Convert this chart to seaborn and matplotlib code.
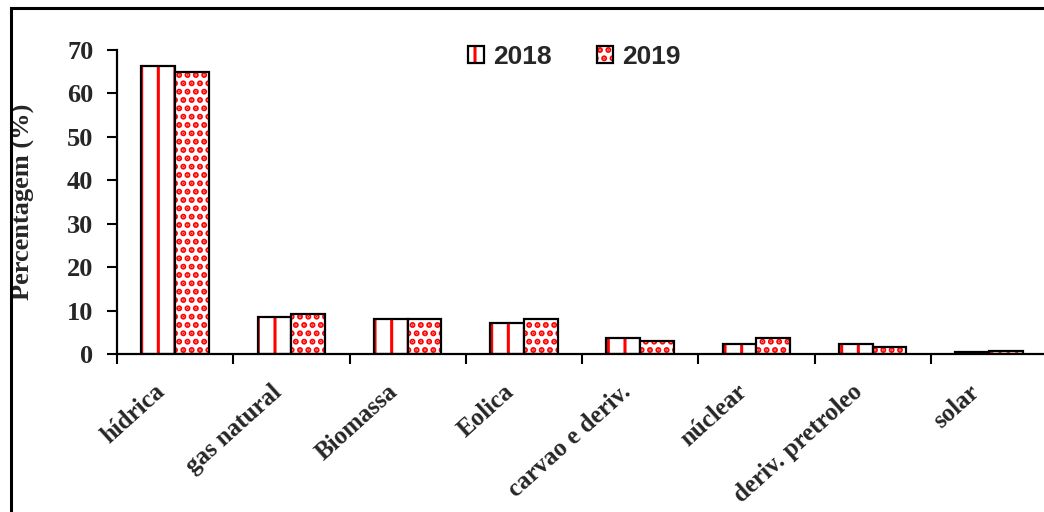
import pandas as pd
import matplotlib.pyplot as plt
import matplotlib.transforms as mtransforms
import seaborn as sns
from matplotlib.patches import Rectangle, Patch

# Values
categories = ['hídrica', 'gas natural', 'Biomassa', 'Eolica', 'carvao e deriv.',
              'núclear', 'deriv. pretroleo', 'solar']
years = ['2018', '2019']
v2018 = [66.3, 8.6, 8.1, 7.2, 3.6, 2.3, 2.3, 0.4]
v2019 = [64.9, 9.1, 8.1, 8.1, 3.1, 3.6, 1.7, 0.8]
y_ticks = [0, 10, 20, 30, 40, 50, 60, 70]

df = pd.DataFrame({
    'fonte': categories * 2,
    'ano': [years[0]] * len(categories) + [years[1]] * len(categories),
    'pct': v2018 + v2019,
})

sns.set_style('white')
plt.rcParams['hatch.linewidth'] = 2.4
plt.rcParams['font.family'] = 'serif'
plt.rcParams['font.serif'] = ['Liberation Serif', 'DejaVu Serif']
plt.rcParams['font.weight'] = 'bold'
sans = ['Liberation Sans', 'DejaVu Sans']
fs = 19

fig = plt.figure(figsize=(10.44, 5.12), dpi=100)
ax = fig.add_axes([117 / 1044, 1 - 354 / 512, 930 / 1044, 304 / 512])

sns.barplot(data=df, x='fonte', y='pct', hue='ano', order=categories, hue_order=years,
            palette=['white', 'white'], width=0.58, edgecolor='black', linewidth=1.6,
            saturation=1, legend=False, ax=ax)


def red_hatch(p, lw):
    if hasattr(p, 'set_hatchcolor'):
        p.set_hatchcolor('red')
    else:
        p._hatch_color = (1, 0, 0, 1)
    if hasattr(p, 'set_hatch_linewidth'):
        p.set_hatch_linewidth(lw)
    elif hasattr(p, '_hatch_linewidth'):
        p._hatch_linewidth = lw


hatches = ['|', '..']
hatch_lw = [2.2, 3.0]
for cont, h, lw in zip(ax.containers, hatches, hatch_lw):
    for bar in cont:
        bar.set_hatch(h)
        red_hatch(bar, lw)

ax.set_xlim(-0.5, len(categories) - 0.5)
ax.set_ylim(0, 70)
ax.set_yticks(y_ticks)
ax.set_yticklabels([str(t) for t in y_ticks], fontweight='bold', fontsize=fs)
ax.tick_params(axis='y', length=7, width=1.5, pad=10, color='black', left=True)

ax.set_xticks(range(len(categories)))
ax.set_xticklabels(categories, rotation=42, ha='right', va='center', rotation_mode='anchor',
                   fontweight='bold', fontsize=18)
ax.tick_params(axis='x', which='major', length=0, pad=25)
shift = mtransforms.ScaledTranslation(-13 / 100, 0, fig.dpi_scale_trans)
for lab in ax.get_xticklabels():
    lab.set_transform(lab.get_transform() + shift)
ax.set_xticks([i - 0.5 for i in range(len(categories) + 1)], minor=True)
ax.tick_params(axis='x', which='minor', length=7, width=1.5, color='black', bottom=True)

ax.set_xlabel('')
ax.set_ylabel('Percentagem (%)', fontweight='bold', fontsize=fs)
ax.yaxis.set_label_coords(-0.088, 0.5)

for s in ['top', 'right']:
    ax.spines[s].set_visible(False)
for s in ['left', 'bottom']:
    ax.spines[s].set_color('black')
    ax.spines[s].set_linewidth(1.6)

handles = []
for h in hatches:
    handles.append(Patch(facecolor='white', edgecolor='black', hatch=h, linewidth=1.6))
leg = ax.legend(handles, years, loc='center', bbox_to_anchor=(0.492, 0.977), ncol=2,
                frameon=False, handlelength=0.6, handleheight=0.6, handletextpad=0.35,
                columnspacing=1.7, prop={'family': sans, 'weight': 'bold', 'size': fs})
for p, lw in zip(leg.get_patches(), hatch_lw):
    red_hatch(p, lw)

# outer frame around the chart
fig.patches.append(Rectangle((11 / 1044, -0.1), 1.2, 1.1 - 8 / 512, transform=fig.transFigure,
                             fill=False, edgecolor='black', linewidth=2.2, clip_on=False))

fig.savefig('out.png', dpi=100)
